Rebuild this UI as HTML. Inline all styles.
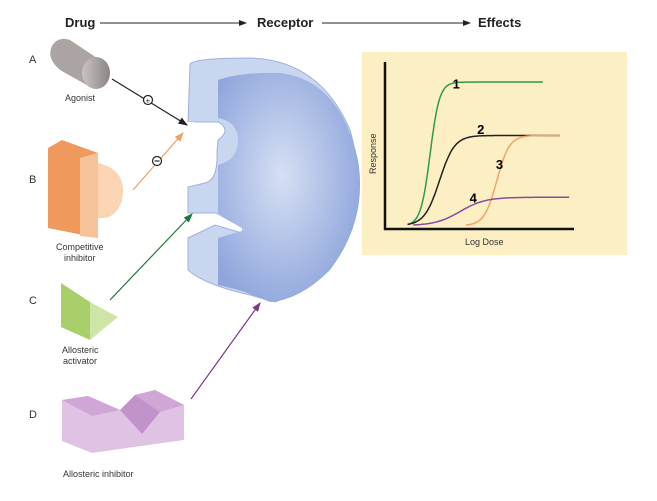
<!DOCTYPE html>
<html><head><meta charset="utf-8"><style>
body{margin:0;background:#fff;width:657px;height:501px;overflow:hidden;font-family:"Liberation Sans",sans-serif}
svg{display:block}
</style></head><body>
<svg width="657" height="501" viewBox="0 0 657 501">
<defs>
<marker id="ak" markerWidth="8" markerHeight="8" refX="7" refY="4" orient="auto"><path d="M0,1 L8,4 L0,7z" fill="#222"/></marker>
<marker id="ao" markerWidth="8" markerHeight="8" refX="7" refY="4" orient="auto"><path d="M0,1 L8,4 L0,7z" fill="#f0a060"/></marker>
<marker id="ag" markerWidth="8" markerHeight="8" refX="7" refY="4" orient="auto"><path d="M0,1 L8,4 L0,7z" fill="#1a7a3a"/></marker>
<marker id="ap" markerWidth="8" markerHeight="8" refX="7" refY="4" orient="auto"><path d="M0,1 L8,4 L0,7z" fill="#7a3a8a"/></marker>
<radialGradient id="rg" cx="0.45" cy="0.45" r="0.6"><stop offset="0" stop-color="#d6e0f4"/><stop offset="1" stop-color="#8fa5dc"/></radialGradient>
<linearGradient id="gray" x1="0" x2="1"><stop offset="0" stop-color="#c9c4c2"/><stop offset="1" stop-color="#8a8584"/></linearGradient>
</defs>
<g font-weight="bold" font-size="13" fill="#222">
<text x="65" y="27">Drug</text>
<line x1="100" y1="23" x2="246" y2="23" stroke="#222" stroke-width="1" marker-end="url(#ak)"/>
<text x="257" y="27">Receptor</text>
<line x1="322" y1="23" x2="470" y2="23" stroke="#222" stroke-width="1" marker-end="url(#ak)"/>
<text x="478" y="27">Effects</text>
</g>
<g font-size="11" fill="#333">
<text x="29" y="63">A</text><text x="29" y="183">B</text><text x="29" y="304">C</text><text x="29" y="418">D</text>
</g>
<g>
<path d="M52,46 Q58,36 70,40 L100,60 L92,88 L60,70 Q46,58 52,46z" fill="#aaa5a3"/>
<ellipse cx="96" cy="73" rx="14" ry="16" fill="url(#gray)"/>
<text x="65" y="101" font-size="9" fill="#333">Agonist</text>
</g>
<g>
<path d="M48,148 L62,140 L98,153 L98,238 L48,228z" fill="#ef9a5c"/>
<path d="M80,158 L98,153 L98,238 L80,236z" fill="#f6c29a"/>
<path d="M98,163 Q128,170 122,200 Q116,220 98,218z" fill="#fbd5b3"/>
<text x="56" y="250" font-size="9" fill="#333">Competitive</text>
<text x="64" y="261" font-size="9" fill="#333">inhibitor</text>
</g>
<g>
<path d="M61,283 L90,302 L90,340 L61,327z" fill="#a8cf6a"/>
<path d="M90,302 L118,317 L90,340z" fill="#cfe5a8"/>
<text x="62" y="353" font-size="9" fill="#333">Allosteric</text>
<text x="63" y="364" font-size="9" fill="#333">activator</text>
</g>
<g>
<path d="M62,400 L88,396 L120,410 L135,395 L155,390 L184,405 L184,440 L92,453 L62,441z" fill="#e0c3e4"/>
<path d="M62,400 L88,396 L120,410 L92,416z M135,395 L155,390 L184,405 L160,412z" fill="#cfa6d6"/>
<path d="M120,410 L135,395 L160,412 L142,434z" fill="#c193ca"/>
<text x="63" y="477" font-size="9" fill="#333">Allosteric inhibitor</text>
</g>
<g>
<path d="M190,64 Q195,58 250,58 Q320,60 350,130 Q368,190 340,250 Q310,290 275,302 L250,295 Q205,285 188,270 L188,238 L215,225 L242,233 L243,228 L216,213 L188,213 L188,187 L205,183 Q218,180 217,152 L218,140 Q232,130 218,122 L188,122 z" fill="#c9d6f0" stroke="#9fb1dc" stroke-width="1"/>
<path d="M218,80 Q240,72 280,73 Q340,80 358,160 Q368,220 330,270 Q300,300 270,302 L245,292 Q232,288 218,285 L218,238 L245,230 L218,213 L218,165 Q238,160 238,140 Q238,122 218,118z" fill="url(#rg)"/>
<path d="M186,122 Q208,120 212,143 Q210,163 186,166z" fill="#fff"/>
</g>
<g stroke-width="1.2" fill="none">
<line x1="112" y1="79" x2="187" y2="125" stroke="#222" marker-end="url(#ak)"/>
<circle cx="148" cy="100" r="4.5" fill="#fff" stroke="#222"/>
<text x="145.5" y="103.5" font-size="8" fill="#222" stroke="none">+</text>
<line x1="133" y1="190" x2="183" y2="133" stroke="#f0a060" marker-end="url(#ao)"/>
<circle cx="157" cy="161" r="4.5" fill="#fff" stroke="#222"/>
<line x1="154.5" y1="161" x2="159.5" y2="161" stroke="#222"/>
<line x1="110" y1="300" x2="192" y2="214" stroke="#1a7a3a" marker-end="url(#ag)"/>
<line x1="191" y1="399" x2="260" y2="303" stroke="#7a3a8a" marker-end="url(#ap)"/>
</g>
<g id="chart">
<rect x="362" y="52" width="265" height="203" fill="#fcefc4"/>
<line x1="385" y1="62" x2="385" y2="230" stroke="#111" stroke-width="2.5"/>
<line x1="384" y1="229" x2="574" y2="229" stroke="#111" stroke-width="2.5"/>
<text x="465" y="245" font-size="9" fill="#333">Log Dose</text>
<text transform="translate(376,174) rotate(-90)" font-size="9" fill="#333">Response</text>
<g id="curves"></g>
</g>
</svg>
<script>
const curveLabels = ["1","2","3","4"];
const curveColors = ["#2e9a48","#222222","#f3a36a","#8a4aa0"];
const emax = [88, 56, 56, 19];
const ec50 = [24, 29, 59.5, 40];
const slope = [0.4, 0.25, 0.3, 0.15];
const doseStart = [12, 12, 43, 15];
const doseEnd = [84, 93, 93, 98];
const labelDose = [36, 49, 59, 45];
const labelResp = [84, 57, 36, 16];
const base = 2;
function xs(d){return 385 + d*1.88;}
function ys(r){return 229 - r*1.67;}
const g = document.getElementById('curves');
const NS = 'http://www.w3.org/2000/svg';
for (let i=0;i<emax.length;i++){
  let d='';
  for (let s=0;s<=100;s++){
    const x = doseStart[i] + (doseEnd[i]-doseStart[i])*s/100;
    const r = base + (emax[i]-base)/(1+Math.exp(-slope[i]*(x-ec50[i])));
    d += (s?'L':'M') + xs(x).toFixed(1) + ',' + ys(r).toFixed(1);
  }
  const p = document.createElementNS(NS,'path');
  p.setAttribute('d', d);
  p.setAttribute('fill','none');
  p.setAttribute('stroke', curveColors[i]);
  p.setAttribute('stroke-width','1.5');
  
  
  g.appendChild(p);
  const t = document.createElementNS(NS,'text');
  t.setAttribute('x', xs(labelDose[i]));
  t.setAttribute('y', ys(labelResp[i]));
  t.setAttribute('font-size','13');
  t.setAttribute('font-weight','bold');
  t.textContent = curveLabels[i];
  
  
  g.appendChild(t);
}
</script>
</body></html>
